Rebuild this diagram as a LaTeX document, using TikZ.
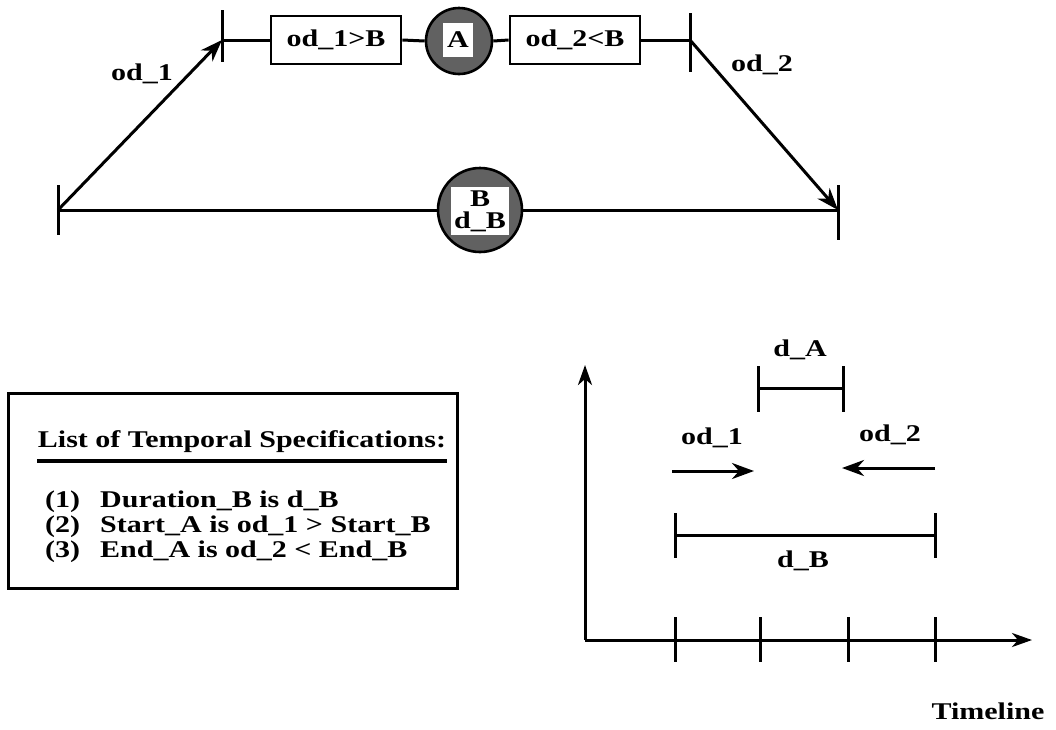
\documentclass[tikz,border=0pt]{standalone}
\usepackage{fontspec}
\setmainfont{Liberation Serif}[FakeStretch=1.25]
\usetikzlibrary{arrows.meta,patterns}
\begin{document}
\begin{tikzpicture}[x=1pt,y=-1pt,
  ln/.style={line width=3pt},
  arr/.style={line width=3pt,-{Stealth[length=22pt,width=16pt,inset=7pt]}},
  lbl/.style={font=\fontsize{24}{26}\selectfont\bfseries,inner sep=1pt},
  cbox/.style={draw,line width=2.8pt,minimum width=130pt,minimum height=48pt,font=\fontsize{24}{26}\selectfont\bfseries},
  ball/.style={circle,draw,line width=2.6pt,fill=black!62},
  inner/.style={fill=white,inner sep=3pt,font=\fontsize{24}{22}\selectfont\bfseries,align=center}
]
\useasboundingbox (0,0) rectangle (1056,729);
% top
\coordinate (tl) at (222,40);
\coordinate (tr) at (690,40);
\coordinate (bl) at (58,210);
\coordinate (br) at (838,210);
\draw[ln] (222,10) -- (222,62);
\draw[ln] (690,13) -- (690,72);
\node[cbox] (b1) at (336,40) {od\_1>B};
\node[cbox] (b2) at (575,40) {od\_2<B};
\node[ball,minimum size=66pt] (A) at (459,41) {};
\node[inner,minimum width=30pt,minimum height=34pt] (At) at (458,40) {A};
\draw[ln] (tl) -- (b1.west);
\draw[ln] (b1.east) -- (A.west);
\draw[ln] (A.east) -- (b2.west);
\draw[ln] (b2.east) -- (tr);
\draw[ln] (58,185) -- (58,235);
\draw[ln] (838,185) -- (838,240);
\node[ball,minimum size=84pt] (B) at (480,210) {};
\node[inner] (Bt) at (480,211) {B\\d\_B};
\draw[ln] (bl) -- (B.west);
\draw[ln] (B.east) -- (br);
\draw[arr] (bl) -- (tl);
\draw[arr] (tr) -- (br);
\node[lbl] (l1) at (142,74) {od\_1};
\node[lbl] (l2) at (762,65) {od\_2};
% list box
\node[draw,line width=3pt,minimum width=449pt,minimum height=195pt] (list) at (232.5,490.5) {};
\node[lbl] (title) at (242,442) {List of Temporal Specifications:};
\draw[line width=3.2pt] (37,461) -- (447,461);
\node[lbl,anchor=west] (i1) at (44,502) {(1)\hspace{20pt}Duration\_B is d\_B};
\node[lbl,anchor=west] (i2) at (44,527) {(2)\hspace{20pt}Start\_A is od\_1 > Start\_B};
\node[lbl,anchor=west] (i3) at (44,552) {(3)\hspace{20pt}End\_A is od\_2 < End\_B};
% timeline
\coordinate (o) at (585,640);
\coordinate (yt) at (585,365);
\coordinate (xt) at (1032,640);
\draw[ln,-{Stealth[length=20pt,width=14pt,inset=6pt]}] (o) -- (yt);
\draw[ln,-{Stealth[length=20pt,width=14pt,inset=6pt]}] (o) -- (xt);
\foreach \x in {675,760,848,935} \draw[ln] (\x,617) -- (\x,662);
\coordinate (dbl) at (675,535);
\coordinate (dbr) at (935,535);
\draw[ln] (675,513) -- (675,558);
\draw[ln] (935,513) -- (935,558);
\draw[ln] (dbl) -- (dbr);
\node[lbl] (dB) at (803,561) {d\_B};
\coordinate (dal) at (758,388);
\coordinate (dar) at (843,388);
\draw[ln] (758,366) -- (758,412);
\draw[ln] (843,366) -- (843,412);
\draw[ln] (dal) -- (dar);
\node[lbl] (dA) at (800,350) {d\_A};
\coordinate (a1s) at (672,471);
\coordinate (a1e) at (754,471);
\coordinate (a2s) at (935,468);
\coordinate (a2e) at (842,468);
\draw[arr] (a1s) -- (a1e);
\draw[arr] (a2s) -- (a2e);
\node[lbl] (o1) at (712,438) {od\_1};
\node[lbl] (o2) at (890,435) {od\_2};
\node[lbl] (tl2) at (988,711) {Timeline};
\end{tikzpicture}
\end{document}
